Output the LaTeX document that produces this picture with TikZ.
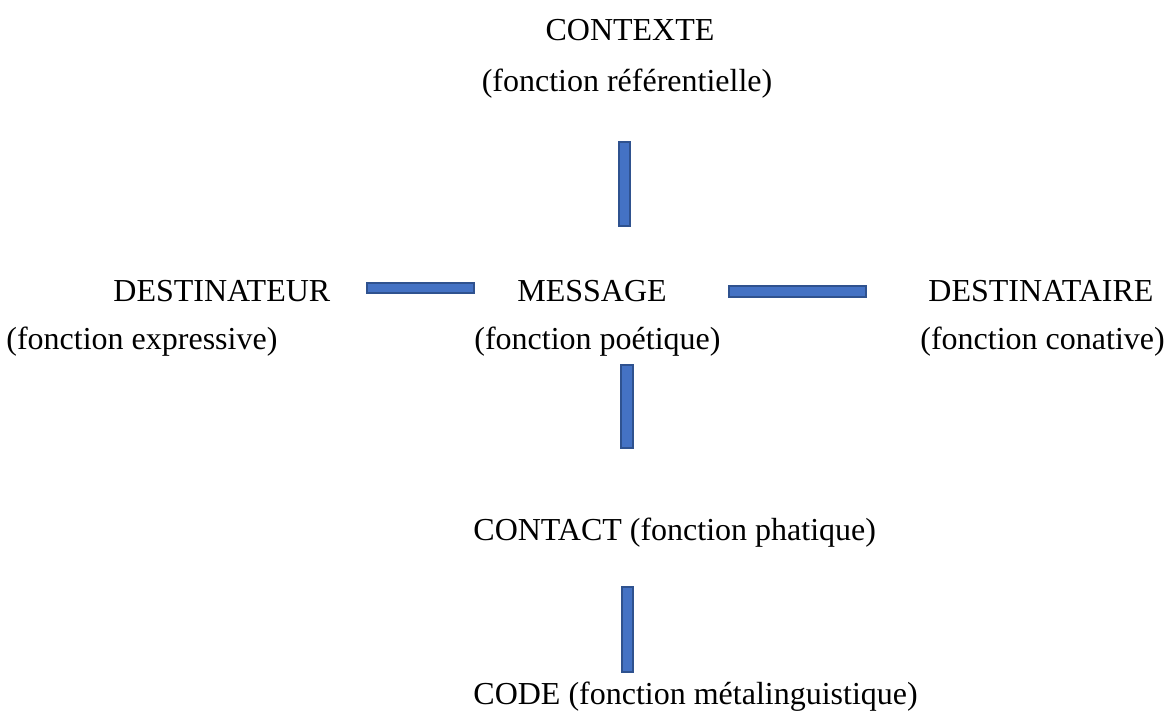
\documentclass[tikz,border=0pt]{standalone}
\usepackage{fontspec}
\setmainfont{Liberation Serif}
\usetikzlibrary{positioning}
\definecolor{BarFill}{HTML}{4472C4}
\definecolor{BarEdge}{HTML}{2F528F}

\begin{document}
\begin{tikzpicture}[x=0.5pt,y=-0.5pt,
  lbl/.style={anchor=base west,inner sep=0pt,font=\fontsize{16}{19}\selectfont},
  bar/.style={fill=BarFill,draw=BarEdge,line width=0.8pt}]
  \useasboundingbox (0,0) rectangle (1170,712);
  % top: context
  \node[lbl,anchor=base] (contexte) at (630,40) {CONTEXTE};
  \node[lbl,anchor=base] (referentielle) at (627,91) {(fonction référentielle)};
  \draw[bar] (619,142) rectangle (630,226);

  % middle row
  \node[lbl] (destinateur) at (113,301) {DESTINATEUR};
  \node[lbl] (message) at (517,301) {MESSAGE};
  \node[lbl] (destinataire) at (928,301) {DESTINATAIRE};
  \node[lbl] (expressive) at (6,349) {(fonction expressive)};
  \node[lbl] (poetique) at (474,349) {(fonction poétique)};
  \node[lbl] (conative) at (920,349) {(fonction conative)};
  \draw[bar] (367,283) rectangle (474,293);
  \draw[bar] (729,286) rectangle (866,297);

  % bottom: contact and code
  \draw[bar] (621,365) rectangle (633,448);
  \node[lbl] (contact) at (473,540) {CONTACT (fonction phatique)};
  \draw[bar] (622,587) rectangle (633,672);
  \node[lbl] (code) at (473,704) {CODE (fonction métalinguistique)};
\end{tikzpicture}
\end{document}
